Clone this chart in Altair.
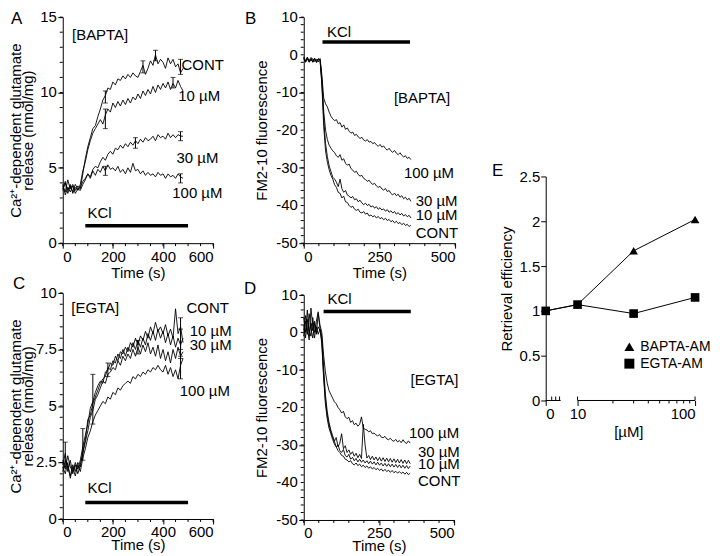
import math
import altair as alt
import pandas as pd

FONT = "Liberation Sans"
FS = 15

# ---------------- Panel A : BAPTA, glutamate release ----------------
A_T = list(range(0, 481, 10))
A_CONT = [3.8, 3.4, 4.2, 3.6, 3.9, 3.5, 3.8, 3.6, 4.6, 5.6, 6.4, 7.0, 7.6, 7.8, 8.4, 8.9, 9.5, 9.8, 10.3,
          10.2, 10.7, 10.5, 10.9, 10.8, 11.1, 10.9, 11.2, 11.0, 11.3, 11.1, 11.0, 11.4, 11.8, 11.2, 11.6,
          12.1, 11.8, 12.5, 11.9, 12.2, 12.0, 11.6, 12.3, 11.9, 12.2, 11.7, 11.9, 11.3, 11.6]
A_10 = [3.6, 4.1, 3.5, 3.9, 3.3, 3.7, 3.5, 3.9, 4.8, 5.4, 6.2, 6.8, 7.3, 7.6, 7.9, 8.2, 7.9, 8.5, 8.9,
        8.7, 9.3, 9.0, 9.4, 9.1, 9.5, 9.2, 9.6, 9.3, 9.7, 9.5, 9.9, 9.6, 10.1, 9.8, 10.2, 9.9, 10.4, 10.0,
        10.5, 10.2, 10.6, 10.3, 10.7, 10.2, 10.6, 10.3, 10.8, 10.4, 10.1]
A_30 = [3.9, 3.2, 3.7, 3.4, 3.8, 3.3, 3.6, 3.5, 3.9, 4.2, 4.6, 4.4, 4.9, 5.1, 5.0, 5.4, 5.7, 5.5, 5.9,
        6.1, 5.9, 6.3, 6.2, 6.5, 6.3, 6.6, 6.4, 6.7, 6.5, 6.8, 6.6, 6.9, 6.7, 7.0, 6.8, 6.9, 7.1, 6.8,
        7.2, 7.0, 7.1, 6.9, 7.3, 7.0, 7.2, 7.0, 7.2, 7.1, 7.1]
A_100 = [3.5, 4.0, 3.3, 3.8, 3.4, 3.9, 3.6, 3.7, 4.1, 4.3, 4.6, 4.3, 4.8, 4.5, 4.9, 4.7, 5.1, 4.8, 5.2,
         4.9, 5.0, 4.8, 5.1, 4.7, 4.9, 4.6, 5.0, 4.7, 5.3, 4.8, 4.9, 4.6, 4.8, 4.5, 4.7, 4.5, 4.6, 4.4,
         4.7, 4.5, 4.6, 4.3, 4.6, 4.4, 4.5, 4.3, 4.6, 4.4, 4.3]
A_ERR_X = [170, 320, 370, 470, 170, 440, 290, 470, 170, 470]
A_ERR_LO = [7.6, 11.3, 12.1, 11.2, 9.3, 10.3, 6.3, 6.8, 4.5, 4.0]
A_ERR_HI = [8.9, 12.1, 12.8, 12.2, 10.1, 11.0, 7.0, 7.4, 5.1, 4.6]

# ---------------- Panel B : BAPTA, FM2-10 ----------------
B_T = list(range(0, 355, 6))
B_CONT = [-0.5, -1.8, -1.0, -2.0, -1.2, -1.9, -0.9, -1.7, -1.1, -1.5, -8.0, -19.0, -25.5, -28.5, -30.5,
          -32.0, -33.0, -34.5, -35.2, -36.5, -36.8, -38.0, -37.5, -39.0, -39.2, -40.0, -40.5, -40.2, -41.0,
          -41.3, -41.0, -41.8, -42.0, -41.6, -42.3, -42.0, -42.8, -42.5, -43.0, -42.7, -43.3, -42.9, -43.5,
          -43.2, -43.8, -43.4, -44.0, -43.7, -44.3, -44.0, -44.6, -44.2, -44.8, -44.5, -45.1, -44.7, -45.3,
          -45.0, -45.6, -45.2]
B_10 = [-1.0, -1.5, -0.8, -1.6, -1.1, -2.0, -1.3, -1.8, -1.0, -1.4, -7.5, -17.0, -23.5, -27.0, -29.5,
        -31.0, -32.5, -33.0, -33.8, -35.0, -33.0, -35.5, -36.5, -36.0, -37.2, -37.5, -38.0, -37.6, -38.5,
        -38.2, -39.0, -38.6, -39.3, -39.8, -39.4, -40.0, -39.7, -40.4, -40.1, -40.7, -40.3, -41.0, -40.6,
        -41.2, -40.9, -41.5, -41.1, -41.8, -41.4, -42.0, -41.6, -42.3, -41.9, -42.5, -42.1, -42.8, -42.4,
        -43.0, -42.6, -43.3]
B_30 = [-0.8, -2.0, -1.2, -1.5, -0.7, -1.6, -1.0, -2.1, -1.3, -1.2, -6.5, -15.0, -20.0, -22.5, -24.0,
        -24.8, -25.5, -26.0, -26.8, -27.2, -26.5, -28.0, -27.6, -28.8, -29.3, -29.0, -30.2, -30.6, -31.2,
        -30.9, -31.8, -32.2, -32.0, -32.8, -33.1, -33.6, -33.3, -34.0, -34.4, -34.1, -34.8, -35.2, -34.9,
        -35.6, -35.9, -35.5, -36.3, -36.0, -36.8, -37.2, -36.7, -37.4, -37.0, -37.8, -37.4, -38.2, -37.8,
        -38.5, -38.1, -38.9]
B_100 = [-1.2, -1.7, -0.6, -1.9, -1.4, -1.0, -1.8, -1.2, -1.9, -1.0, -5.5, -11.5, -13.0, -13.8, -15.2,
         -16.3, -17.0, -17.5, -17.2, -18.3, -18.0, -19.2, -18.6, -19.8, -19.4, -20.3, -20.8, -20.5, -21.4,
         -21.1, -21.8, -22.2, -21.9, -22.6, -22.9, -22.5, -23.2, -23.0, -23.6, -23.3, -23.9, -24.3, -23.8,
         -24.5, -24.2, -24.9, -25.3, -24.8, -25.5, -25.9, -25.4, -26.1, -26.5, -26.0, -26.7, -27.1, -26.8,
         -27.5, -27.2, -27.8]

# ---------------- Panel C : EGTA, glutamate release ----------------
C_T = list(range(0, 481, 10))
C_CONT = [2.4, 2.9, 2.1, 2.6, 2.0, 2.5, 2.2, 2.6, 3.2, 3.7, 4.2, 4.9, 5.2, 5.6, 5.9, 6.1, 6.0, 6.5, 6.6,
          6.9, 6.8, 7.2, 7.0, 7.4, 7.3, 7.6, 7.4, 7.8, 7.6, 8.0, 7.7, 8.1, 7.9, 8.3, 8.0, 8.5, 8.2, 8.7,
          8.3, 8.5, 8.2, 8.6, 8.1, 8.4, 8.0, 9.3, 8.2, 8.5, 7.8]
C_10 = [2.1, 2.6, 2.3, 1.9, 2.4, 2.1, 2.5, 2.3, 3.0, 3.5, 4.4, 4.6, 5.1, 5.4, 5.7, 6.0, 6.2, 6.3, 6.7,
        6.6, 7.0, 6.9, 7.3, 7.1, 7.5, 7.2, 7.6, 7.4, 7.8, 7.5, 7.9, 7.6, 8.0, 7.7, 8.2, 7.9, 8.3, 7.9,
        8.4, 8.0, 8.3, 7.8, 8.2, 7.7, 8.1, 7.6, 8.0, 7.7, 8.0]
C_30 = [2.6, 2.2, 2.8, 2.3, 2.1, 2.4, 2.0, 2.4, 2.9, 3.4, 3.9, 4.5, 4.8, 5.3, 5.5, 5.8, 6.1, 6.0, 6.4,
        6.5, 6.7, 6.6, 7.0, 6.8, 7.2, 7.0, 7.3, 7.1, 7.5, 7.2, 7.6, 7.3, 7.7, 7.4, 7.8, 7.3, 7.6, 7.2,
        7.7, 7.1, 7.5, 7.0, 7.4, 6.9, 7.5, 7.1, 7.6, 7.2, 7.4]
C_100 = [2.3, 2.0, 2.5, 1.8, 2.3, 1.9, 2.4, 2.1, 2.7, 3.1, 3.6, 3.9, 4.3, 4.6, 4.8, 5.0, 5.2, 5.1, 5.4,
         5.3, 5.6, 5.5, 5.8, 5.7, 5.9, 6.0, 6.1, 6.0, 6.3, 6.2, 6.4, 6.3, 6.5, 6.4, 6.6, 6.5, 6.7, 6.6,
         6.8, 6.6, 6.5, 6.8, 6.4, 6.7, 6.3, 6.6, 6.2, 6.8, 7.1]
C_ERR_X = [10, 80, 120, 180, 300, 470, 470, 470]
C_ERR_LO = [2.3, 2.6, 4.2, 6.3, 7.3, 7.1, 6.2, 7.5]
C_ERR_HI = [3.4, 4.0, 6.4, 6.9, 7.9, 8.4, 7.2, 8.9]

# ---------------- Panel D : EGTA, FM2-10 ----------------
D_T = list(range(0, 355, 6))
D_CONT = [2.0, -1.5, 3.5, 0.5, -1.0, 4.0, 0.0, 1.5, -0.5, 1.0, -3.0, -12.0, -19.0, -23.0, -25.5, -27.0,
          -28.5, -29.8, -30.5, -31.5, -32.0, -32.8, -33.0, -33.8, -34.0, -34.5, -34.2, -35.0, -35.3, -34.8,
          -35.5, -35.1, -35.8, -35.4, -36.0, -35.6, -36.2, -35.8, -36.4, -36.0, -36.6, -36.2, -36.8, -36.4,
          -37.0, -36.5, -37.1, -36.7, -37.3, -36.8, -37.4, -37.0, -37.5, -37.1, -37.6, -37.2, -37.8, -37.3,
          -37.9, -37.5]
D_10 = [0.5, 3.0, -0.5, 5.0, 1.0, -1.5, 2.5, 0.0, 1.5, 0.5, -2.0, -11.0, -18.0, -22.0, -24.5, -26.5,
        -28.0, -29.0, -30.5, -30.0, -31.5, -32.0, -31.2, -32.8, -33.2, -32.5, -33.8, -33.3, -34.2, -33.6,
        -34.5, -33.8, -34.6, -34.0, -34.8, -34.2, -35.0, -34.3, -35.1, -34.5, -35.3, -34.6, -35.4, -34.8,
        -35.6, -34.9, -35.7, -35.0, -35.8, -35.1, -35.9, -35.2, -36.0, -35.3, -36.1, -35.4, -36.2, -35.5,
        -36.3, -35.6]
D_30 = [4.0, 0.0, 6.0, -1.0, 2.5, 0.5, 3.0, -0.5, 5.0, 1.0, -1.0, -9.0, -16.5, -21.0, -24.0, -26.0,
        -27.5, -29.0, -28.0, -30.5, -29.5, -27.0, -31.0, -30.2, -32.0, -31.3, -32.5, -31.8, -33.0, -32.2,
        -33.4, -32.5, -33.6, -24.5, -30.0, -33.5, -32.8, -33.9, -33.0, -34.0, -33.2, -34.2, -33.3, -34.3,
        -33.4, -34.4, -33.5, -34.5, -33.6, -34.6, -33.7, -34.7, -33.8, -34.8, -33.9, -34.9, -34.0, -35.0,
        -34.1, -35.0]
D_100 = [-1.0, 4.5, 1.0, -2.0, 6.5, 1.5, -1.5, 3.0, 5.5, 2.0, 0.0, -6.0, -10.5, -13.5, -15.5, -16.5,
         -17.5, -18.5, -19.0, -20.0, -20.6, -21.5, -21.0, -22.5, -23.0, -22.6, -24.0, -23.5, -24.6, -24.2,
         -25.0, -24.5, -22.5, -25.5, -25.8, -26.0, -26.5, -26.2, -27.0, -26.8, -27.3, -27.6, -27.2, -27.9,
         -28.1, -27.7, -28.4, -28.6, -28.2, -28.8, -29.0, -28.5, -29.2, -28.8, -29.4, -28.6, -29.3, -29.6,
         -28.9, -29.5]

# ---------------- Panel E : retrieval efficiency ----------------
E_CONC = [0, 10, 30, 100]
E_BAPTA = [1.0, 1.07, 1.67, 2.02]
E_EGTA = [1.0, 1.07, 0.97, 1.15]
E_SERIES = ["BAPTA-AM", "EGTA-AM"]
E_SHAPES = ["triangle-up", "square"]

SERIES = ["CONT", "10 µM", "30 µM", "100 µM"]


def long_df(t, cols):
    rows = []
    for name, vals in zip(SERIES, cols):
        for x, y in zip(t, vals):
            rows.append({"x": x, "y": y, "s": name})
    return pd.DataFrame(rows)


def fmt(v):
    return ("%g" % v)


def trace_panel(df, W, H, xdom, xmajor, xminor, ydom, ymajor, yminor, ytitle, ytpad, xtpad,
                labels, kcl, err, letter, lpos):
    xs = alt.Scale(domain=xdom, nice=False, zero=False)
    ys = alt.Scale(domain=ydom, nice=False, zero=False)
    xax = alt.Axis(values=xmajor, title="Time (s)", labelExpr="'' + datum.value",
                   labelOverlap=False, titlePadding=xtpad)
    # y tick labels are drawn as a text layer (see below), so the axis keeps room for them
    yax = alt.Axis(values=ymajor, title=ytitle, labels=False, titlePadding=ytpad, titleLineHeight=12)
    layers = []
    layers.append(alt.Chart(df).mark_line(color="black", strokeWidth=0.9).encode(
        x=alt.X("x:Q", scale=xs, axis=xax), y=alt.Y("y:Q", scale=ys, axis=yax), detail="s:N"))
    layers.append(alt.Chart(pd.DataFrame({"y": ymajor, "label": [fmt(v) for v in ymajor]})).mark_text(
        align="right", baseline="middle", font=FONT, fontSize=FS, color="black", dx=-6).encode(
        y="y:Q", x=alt.value(0), text="label:N"))
    layers.append(alt.Chart(pd.DataFrame({"x": xminor})).mark_rule(color="black", strokeWidth=1).encode(
        x="x:Q", y=alt.value(H), y2=alt.value(H + 3)))
    layers.append(alt.Chart(pd.DataFrame({"y": yminor})).mark_rule(color="black", strokeWidth=1).encode(
        y="y:Q", x=alt.value(0), x2=alt.value(-3)))
    if err is not None:
        ex, lo, hi = err
        layers.append(alt.Chart(pd.DataFrame({"x": ex, "y": lo, "y2": hi})).mark_rule(
            color="black", strokeWidth=1).encode(x="x:Q", y="y:Q", y2="y2:Q"))
        caps = pd.DataFrame({"x": ex + ex, "y": lo + hi})
        layers.append(alt.Chart(caps).mark_tick(color="black", orient="horizontal", size=5,
                                                thickness=1).encode(x="x:Q", y="y:Q"))
    kx, kx2, ky, ktx, kty = kcl
    layers.append(alt.Chart(pd.DataFrame({"x": [kx], "x2": [kx2], "y": [ky]})).mark_rule(
        color="black", strokeWidth=3.5).encode(x="x:Q", x2="x2:Q", y="y:Q"))
    layers.append(alt.Chart(pd.DataFrame({"x": [ktx], "y": [kty], "label": ["KCl"]})).mark_text(
        align="left", baseline="middle", font=FONT, fontSize=FS, color="black").encode(
        x="x:Q", y="y:Q", text="label:N"))
    layers.append(alt.Chart(pd.DataFrame(labels, columns=["label", "x", "y"])).mark_text(
        align="left", baseline="middle", font=FONT, fontSize=FS, color="black").encode(
        x="x:Q", y="y:Q", text="label:N"))
    layers.append(alt.Chart(pd.DataFrame({"l": [letter]})).mark_text(
        align="left", baseline="alphabetic", font=FONT, fontSize=17, color="black").encode(
        x=alt.value(lpos[0]), y=alt.value(lpos[1]), text="l:N"))
    return alt.layer(*layers).properties(width=W, height=H)


GLU_TITLE = ["Ca²⁺-dependent glutamate", "release (nmol/mg)"]

panelA = trace_panel(
    long_df(A_T, [A_CONT, A_10, A_30, A_100]), 151, 227,
    [0, 600], [0, 200, 400, 600], list(range(0, 601, 50)),
    [0, 15], [0, 5, 10, 15], list(range(0, 16)), GLU_TITLE, 22, 1,
    [("[BAPTA]", 37, 13.8), ("CONT", 474, 11.85), ("10 µM", 461, 9.75),
     ("30 µM", 454, 5.67), ("100 µM", 437, 3.35)],
    (90, 500, 1.15, 99, 2.0), (A_ERR_X, A_ERR_LO, A_ERR_HI), "A", (-52, 7))

panelB = trace_panel(
    long_df(B_T, [B_CONT, B_10, B_30, B_100]), 152, 227,
    [0, 500], [0, 250, 500], list(range(0, 501, 50)),
    [-50, 10], [-50, -40, -30, -20, -10, 0, 10], list(range(-50, 11, 2)), "FM2-10 fluorescence", 29, 1,
    [("[BAPTA]", 298, -11.4), ("100 µM", 331, -31.4), ("30 µM", 370, -38.8),
     ("10 µM", 370, -42.6), ("CONT", 370, -47.2)],
    (62, 351, 3.4, 77, 6.0), None, "B", (-59, 7))

panelC = trace_panel(
    long_df(C_T, [C_CONT, C_10, C_30, C_100]), 151, 227,
    [0, 600], [0, 200, 400, 600], list(range(0, 601, 50)),
    [0, 10], [0, 2.5, 5, 7.5, 10], [v / 2 for v in range(0, 21)], GLU_TITLE, 22, -2,
    [("[EGTA]", 34, 9.32), ("CONT", 494, 9.32), ("10 µM", 507, 8.3),
     ("30 µM", 507, 7.7), ("100 µM", 467, 5.68)],
    (90, 500, 0.73, 99, 1.36), (C_ERR_X, C_ERR_LO, C_ERR_HI), "C", (-50, -4))

panelD = trace_panel(
    long_df(D_T, [D_CONT, D_10, D_30, D_100]), 151, 226,
    [0, 500], [0, 250, 500], list(range(0, 501, 50)),
    [-50, 10], [-50, -40, -30, -20, -10, 0, 10], list(range(-50, 11, 2)), "FM2-10 fluorescence", 29, -2,
    [("[EGTA]", 355, -12.6), ("100 µM", 350, -26.7), ("30 µM", 380, -32.0),
     ("10 µM", 380, -35.1), ("CONT", 380, -39.6)],
    (66, 356, 5.6, 79, 8.9), None, "D", (-60, -1))

# ---- Panel E : broken x axis (0, then log 10-100) ----
ZERO_POS = 0.729  # where "0" sits on the log10 axis (before the break)
EW, EH = 150, 225
rowsE = []
for name, vals in zip(E_SERIES, [E_BAPTA, E_EGTA]):
    for c, v in zip(E_CONC, vals):
        rowsE.append({"conc": c, "pos": math.log10(c) if c > 0 else ZERO_POS, "y": v, "series": name})
dfE = pd.DataFrame(rowsE)

exs = alt.Scale(domain=[ZERO_POS, 2.0], nice=False, zero=False)
eys = alt.Scale(domain=[0, 2.5], nice=False, zero=False)
lineE = alt.Chart(dfE).mark_line(color="black", strokeWidth=1).encode(
    x=alt.X("pos:Q", scale=exs, axis=alt.Axis(
        values=[ZERO_POS, 1, 2], domain=False, title="[µM]", titleX=83, titlePadding=3,
        labelExpr="datum.value < 0.9 ? '0' : (datum.value < 1.5 ? '10' : '100')")),
    y=alt.Y("y:Q", scale=eys, axis=alt.Axis(values=[0, 0.5, 1, 1.5, 2, 2.5], title="Retrieval efficiency",
                                           labelExpr="'' + datum.value", titlePadding=4)),
    detail="series:N")
shape_scale = alt.Scale(domain=E_SERIES, range=E_SHAPES)
pointsE = alt.Chart(dfE).transform_filter(
    "datum.series == 'EGTA-AM' || datum.conc >= 30").mark_point(
    filled=True, size=75, color="black", opacity=1).encode(
    x="pos:Q", y="y:Q", shape=alt.Shape("series:N", scale=shape_scale, legend=None))

# hand-placed key (symbol + name), inside panel E
key_layers = []
for i, (name, shp) in enumerate(zip(E_SERIES, E_SHAPES)):
    kdf = pd.DataFrame({"label": [name]})
    key_layers.append(alt.Chart(kdf).mark_point(filled=True, size=100, color="black", opacity=1,
                                                shape=shp).encode(
        x=alt.value(84), y=alt.value(171 + 17 * i)))
    key_layers.append(alt.Chart(kdf).mark_text(align="left", baseline="middle", font=FONT, fontSize=14,
                                               color="black").encode(
        x=alt.value(95), y=alt.value(171 + 17 * i), text="label:N"))

E_SEGMENTS = pd.DataFrame({"x": [ZERO_POS, 1.0], "x2": [0.856, 2.0]})
segE = alt.Chart(E_SEGMENTS).mark_rule(color="black", strokeWidth=1).encode(
    x="x:Q", x2="x2:Q", y=alt.value(EH))
E_MINOR_DOWN = [math.log10(v) for v in range(20, 100, 10)]
minE = alt.Chart(pd.DataFrame({"x": E_MINOR_DOWN})).mark_rule(color="black").encode(
    x="x:Q", y=alt.value(EH), y2=alt.value(EH + 3))
E_MINOR_UP = [0.78, 0.814, 0.847, 1.0, 2.0]
minUpE = alt.Chart(pd.DataFrame({"x": E_MINOR_UP})).mark_rule(color="black").encode(
    x="x:Q", y=alt.value(EH), y2=alt.value(EH - 4))
letterE = alt.Chart(pd.DataFrame({"l": ["E"]})).mark_text(
    align="left", baseline="alphabetic", font=FONT, fontSize=17, color="black").encode(
    x=alt.value(-54), y=alt.value(0), text="l:N")
panelE = alt.layer(lineE, segE, minE, minUpE, pointsE, letterE, *key_layers).properties(width=EW, height=EH)

spacer = alt.Chart(pd.DataFrame({"a": [0]})).mark_point(opacity=0).properties(width=EW, height=160)

col1 = alt.vconcat(panelA, panelC, spacing=50, bounds="flush")
col2 = alt.vconcat(panelB, panelD, spacing=52, bounds="flush")
col3 = alt.vconcat(spacer, panelE, spacing=0, bounds="flush")

chart = alt.hconcat(alt.hconcat(col1, col2, spacing=10), col3, spacing=30).properties(
    padding=0).configure_view(stroke="transparent").configure_axis(
    domainColor="black", tickColor="black", labelColor="black", titleColor="black",
    labelFont=FONT, titleFont=FONT, labelFontSize=FS, titleFontSize=FS, titleFontWeight="normal",
    grid=False, tickSize=5, labelPadding=1, domainWidth=1, tickWidth=1, labelOverlap=False)

chart.save("out.html", embed_options={"renderer": "svg", "actions": False})
